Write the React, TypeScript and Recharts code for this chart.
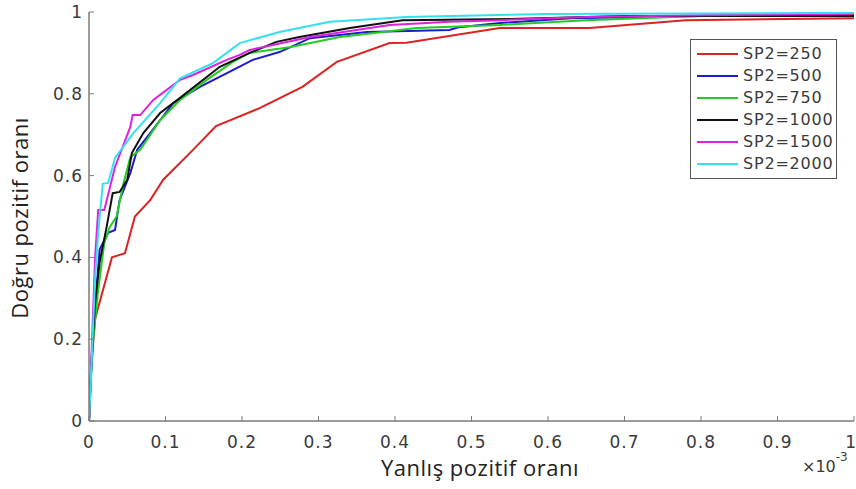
import React from 'react';
import { LineChart, Line, XAxis, YAxis } from 'recharts';

const xTicks = [0, 0.1, 0.2, 0.3, 0.4, 0.5, 0.6, 0.7, 0.8, 0.9, 1];
const yTicks = [0, 0.2, 0.4, 0.6, 0.8, 1];

const seriesNames = ['SP2=250', 'SP2=500', 'SP2=750', 'SP2=1000', 'SP2=1500', 'SP2=2000'];
const seriesColors = ['#dd2222', '#1c1ccc', '#22cc22', '#111111', '#dd22dd', '#33e0f0'];

const fpr250 = [0, 0.002, 0.005, 0.008, 0.03, 0.047, 0.06, 0.08, 0.097, 0.136, 0.166, 0.223, 0.279, 0.324, 0.393, 0.415, 0.537, 0.654, 0.78, 1.0];
const tpr250 = [0, 0.1, 0.18, 0.25, 0.4, 0.41, 0.5, 0.54, 0.59, 0.663, 0.721, 0.765, 0.817, 0.878, 0.924, 0.925, 0.961, 0.961, 0.98, 0.985];

const fpr500 = [0, 0.002, 0.005, 0.01, 0.014, 0.025, 0.034, 0.04, 0.054, 0.063, 0.08, 0.11, 0.145, 0.188, 0.214, 0.249, 0.289, 0.363, 0.471, 0.484, 0.537, 0.63, 0.8, 1.0];
const tpr500 = [0, 0.1, 0.2, 0.33, 0.42, 0.46, 0.467, 0.54, 0.606, 0.663, 0.704, 0.777, 0.817, 0.858, 0.883, 0.902, 0.936, 0.951, 0.956, 0.963, 0.973, 0.985, 0.99, 0.993];

const fpr750 = [0, 0.002, 0.005, 0.012, 0.02, 0.027, 0.036, 0.045, 0.054, 0.067, 0.093, 0.119, 0.154, 0.188, 0.21, 0.262, 0.328, 0.384, 0.428, 0.537, 0.65, 0.8, 1.0];
const tpr750 = [0, 0.08, 0.19, 0.32, 0.435, 0.474, 0.5, 0.58, 0.645, 0.663, 0.736, 0.785, 0.834, 0.878, 0.9, 0.914, 0.939, 0.951, 0.961, 0.968, 0.98, 0.99, 0.99];

const fpr1000 = [0, 0.002, 0.005, 0.008, 0.014, 0.023, 0.031, 0.04, 0.05, 0.056, 0.071, 0.093, 0.119, 0.171, 0.21, 0.245, 0.275, 0.341, 0.41, 0.55, 0.7, 1.0];
const tpr1000 = [0, 0.1, 0.2, 0.29, 0.39, 0.474, 0.557, 0.56, 0.59, 0.655, 0.704, 0.753, 0.79, 0.866, 0.9, 0.927, 0.939, 0.961, 0.98, 0.983, 0.99, 0.99];

const fpr1500 = [0, 0.002, 0.005, 0.008, 0.012, 0.02, 0.034, 0.054, 0.057, 0.067, 0.084, 0.119, 0.136, 0.18, 0.197, 0.21, 0.289, 0.393, 0.471, 0.537, 0.65, 0.8, 1.0];
const tpr1500 = [0, 0.1, 0.25, 0.4, 0.516, 0.516, 0.621, 0.719, 0.748, 0.748, 0.785, 0.834, 0.846, 0.883, 0.895, 0.907, 0.939, 0.968, 0.976, 0.98, 0.988, 0.992, 0.995];

const fpr2000 = [0, 0.002, 0.004, 0.008, 0.012, 0.018, 0.025, 0.034, 0.058, 0.093, 0.119, 0.162, 0.197, 0.249, 0.315, 0.415, 0.6, 1.0];
const tpr2000 = [0, 0.08, 0.17, 0.35, 0.46, 0.58, 0.582, 0.643, 0.704, 0.777, 0.838, 0.875, 0.924, 0.951, 0.976, 0.988, 0.995, 0.998];

const zip = (xs: number[], ys: number[]) => xs.map((x, i) => ({ x, y: ys[i] }));

const seriesData = [
  zip(fpr250, tpr250),
  zip(fpr500, tpr500),
  zip(fpr750, tpr750),
  zip(fpr1000, tpr1000),
  zip(fpr1500, tpr1500),
  zip(fpr2000, tpr2000),
];

const AXIS_COLOR = '#7a7a7a';
const LABEL_COLOR = '#3a3a3a';
const TICK_FONT = '"DejaVu Sans", sans-serif';
const TICK_LEN = 5;

const BottomTick = (props: any) => {
  const { x, y, payload } = props;
  const isLast = payload.value === 1;
  return (
    <g>
      <line x1={x} x2={x} y1={y} y2={y - TICK_LEN} stroke={AXIS_COLOR} strokeWidth={1} />
      <text
        x={isLast ? 857 : x}
        y={y + 27}
        textAnchor={isLast ? 'end' : 'middle'}
        fill={LABEL_COLOR}
        fontSize={17}
        fontFamily={TICK_FONT}
        letterSpacing={1}
      >
        {String(payload.value)}
      </text>
    </g>
  );
};

const TopTick = (props: any) => {
  const { x, y } = props;
  return <line x1={x} x2={x} y1={y} y2={y + TICK_LEN} stroke={AXIS_COLOR} strokeWidth={1} />;
};

const LeftTick = (props: any) => {
  const { x, y, payload } = props;
  return (
    <g>
      <line x1={x} x2={x + TICK_LEN} y1={y} y2={y} stroke={AXIS_COLOR} strokeWidth={1} />
      <text x={x - 6} y={y + 6} textAnchor="end" fill={LABEL_COLOR} fontSize={17} fontFamily={TICK_FONT} letterSpacing={1}>
        {String(payload.value)}
      </text>
    </g>
  );
};

const RightTick = (props: any) => {
  const { x, y } = props;
  return <line x1={x} x2={x - TICK_LEN} y1={y} y2={y} stroke={AXIS_COLOR} strokeWidth={1} />;
};

const LegendBox = () => (
  <div
    style={{
      position: 'absolute',
      left: 690,
      top: 39,
      width: 147,
      border: '1px solid #555',
      background: '#fff',
      padding: '3px 0 3px 0',
      boxSizing: 'border-box',
    }}
  >
    {seriesNames.map((name, i) => (
      <div key={name} style={{ display: 'flex', alignItems: 'center', height: 22 }}>
        <div style={{ width: 41, height: 2, background: seriesColors[i], marginLeft: 6, marginRight: 5 }} />
        <span style={{ fontFamily: TICK_FONT, fontSize: 16, letterSpacing: 0.8, color: LABEL_COLOR, lineHeight: '22px' }}>{name}</span>
      </div>
    ))}
  </div>
);

export default function App() {
  return (
    <div style={{ position: 'absolute', left: 0, top: 0, width: 856, height: 489, background: '#fff', overflow: 'hidden' }}>
      <LineChart width={856} height={489} margin={{ top: 12, right: 2, bottom: 0, left: 0 }}>
        <XAxis
          xAxisId="bottom"
          type="number"
          dataKey="x"
          domain={[0, 1]}
          ticks={xTicks}
          interval={0}
          height={68}
          tickSize={0}
          tickMargin={0}
          tickLine={false}
          tick={<BottomTick />}
          axisLine={{ stroke: AXIS_COLOR, strokeWidth: 1.5 }}
          allowDataOverflow
        />
        <XAxis
          xAxisId="top"
          orientation="top"
          type="number"
          dataKey="x"
          domain={[0, 1]}
          ticks={xTicks}
          interval={0}
          height={0}
          tickSize={0}
          tickMargin={0}
          tickLine={false}
          tick={<TopTick />}
          axisLine={{ stroke: AXIS_COLOR, strokeWidth: 1.5 }}
        />
        <YAxis
          yAxisId="left"
          type="number"
          domain={[0, 1]}
          ticks={yTicks}
          interval={0}
          width={89}
          tickSize={0}
          tickMargin={0}
          tickLine={false}
          tick={<LeftTick />}
          axisLine={{ stroke: AXIS_COLOR, strokeWidth: 1.5 }}
          allowDataOverflow
        />
        <YAxis
          yAxisId="right"
          orientation="right"
          type="number"
          domain={[0, 1]}
          ticks={yTicks}
          interval={0}
          width={0}
          tickSize={0}
          tickMargin={0}
          tickLine={false}
          tick={<RightTick />}
          axisLine={{ stroke: AXIS_COLOR, strokeWidth: 1.5 }}
        />
        {seriesData.map((d, i) => (
          <Line
            key={seriesNames[i]}
            xAxisId="bottom"
            yAxisId="left"
            data={d}
            dataKey="y"
            name={seriesNames[i]}
            type="linear"
            stroke={seriesColors[i]}
            strokeWidth={2}
            dot={false}
            activeDot={false}
            isAnimationActive={false}
          />
        ))}
      </LineChart>
      <LegendBox />
      <div
        style={{
          position: 'absolute',
          left: 360,
          top: 452,
          width: 240,
          textAlign: 'center',
          fontFamily: '"Open Sans", sans-serif',
          fontSize: 22,
          letterSpacing: 0.5,
          color: '#222',
          whiteSpace: 'nowrap',
        }}
      >
        Yanlış pozitif oranı
      </div>
      <div
        style={{
          position: 'absolute',
          left: 19 - 120,
          top: 218 - 15,
          width: 240,
          height: 30,
          lineHeight: '30px',
          textAlign: 'center',
          transform: 'rotate(-90deg)',
          fontFamily: '"Open Sans", sans-serif',
          fontSize: 22,
          letterSpacing: 0.5,
          color: '#222',
          whiteSpace: 'nowrap',
        }}
      >
        Doğru pozitif oranı
      </div>
      <div
        style={{
          position: 'absolute',
          left: 802,
          top: 457,
          fontFamily: TICK_FONT,
          fontSize: 16,
          color: LABEL_COLOR,
          whiteSpace: 'nowrap',
        }}
      >
        ×10<sup style={{ fontSize: 12, verticalAlign: 'top', position: 'relative', top: -7 }}>-3</sup>
      </div>
    </div>
  );
}
